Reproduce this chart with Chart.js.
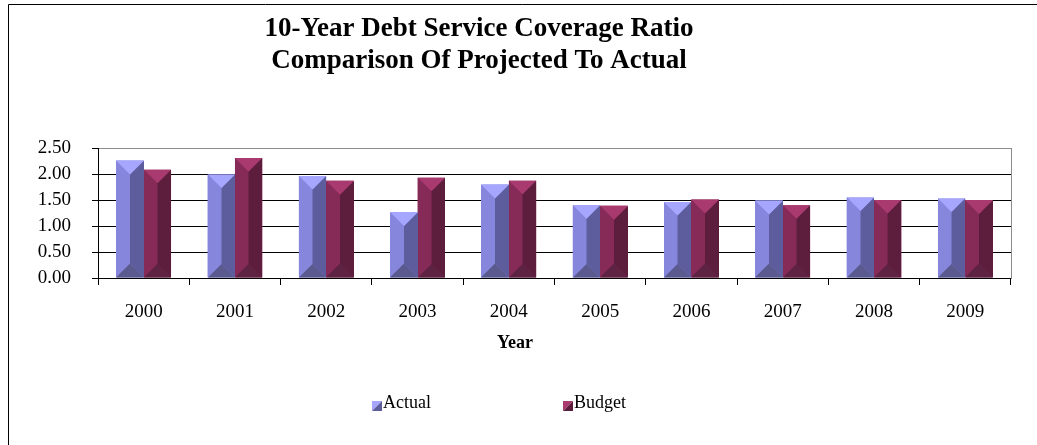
<!DOCTYPE html>
<html>
<head>
<meta charset="utf-8">
<script src="https://cdn.jsdelivr.net/npm/chart.js@4.4.1/dist/chart.umd.min.js"></script>
<style>
  html, body { margin: 0; padding: 0; background: #fff; }
  #wrap { width: 1037px; height: 445px; position: relative; }
</style>
</head>
<body>
<div id="wrap"><canvas id="dscrChart" width="1037" height="445"></canvas></div>
<script>
// data
const years = ['2000', '2001', '2002', '2003', '2004', '2005', '2006', '2007', '2008', '2009'];
const actualRatio = [2.26, 1.99, 1.96, 1.27, 1.80, 1.40, 1.46, 1.49, 1.55, 1.53];
const budgetRatio = [2.08, 2.31, 1.87, 1.93, 1.87, 1.39, 1.51, 1.40, 1.50, 1.50];
const yTicks = [0, 0.5, 1, 1.5, 2, 2.5];
const titleLines = ['10-Year Debt Service Coverage Ratio', 'Comparison Of Projected To Actual'];
const xTitle = 'Year';

const serif = "'Liberation Serif', 'Times New Roman', serif";

// facet colours for the bevelled bars: top, left, right, bottom
const shades = {
    Actual: { top: '#a6a6ff', left: '#8686dd', right: '#5d5d9e', bottom: '#5a5a8e' },
    Budget: { top: '#a83a70', left: '#862a58', right: '#5c1e3c', bottom: '#5e2242' }
};

function bevel(ctx, L, R, T, B, c) {
    const w = R - L;
    const d = Math.min(w / 2, (B - T) / 2);
    const C = (L + R) / 2;
    const poly = (pts, col) => {
        ctx.beginPath();
        ctx.moveTo(pts[0][0], pts[0][1]);
        for (let i = 1; i < pts.length; i++) ctx.lineTo(pts[i][0], pts[i][1]);
        ctx.closePath();
        ctx.fillStyle = col;
        ctx.fill();
    };
    poly([[L, T], [C, T + d], [C, B - d], [L, B]], c.left);
    poly([[R, T], [C, T + d], [C, B - d], [R, B]], c.right);
    poly([[L, T], [R, T], [C, T + d]], c.top);
    poly([[L, B], [R, B], [C, B - d]], c.bottom);
}

// draws the bevel facets on top of each bar plus frame, title, axis name and legend
const excelLook = {
    id: 'excelLook',
    afterDatasetsDraw(chart) {
        const ctx = chart.ctx;
        ctx.save();
        chart.data.datasets.forEach((ds, i) => {
            const meta = chart.getDatasetMeta(i);
            meta.data.forEach(bar => {
                const p = bar.getProps(['x', 'y', 'base', 'width'], true);
                const L = Math.round(p.x - p.width / 2);
                const R = Math.round(p.x + p.width / 2);
                bevel(ctx, L, R, p.y, p.base, shades[ds.label]);
            });
        });
        ctx.restore();
    },
    afterDraw(chart) {
        const ctx = chart.ctx;
        ctx.save();
        // outer chart frame (only top and left edges are visible)
        ctx.strokeStyle = '#000';
        ctx.lineWidth = 1;
        ctx.beginPath();
        ctx.moveTo(8.5, 445);
        ctx.lineTo(8.5, 4.5);
        ctx.lineTo(1037, 4.5);
        ctx.stroke();

        ctx.fillStyle = '#000';
        ctx.textAlign = 'center';
        ctx.textBaseline = 'alphabetic';
        ctx.font = 'bold 27px ' + serif;
        ctx.fillText(titleLines[0], 479, 36);
        ctx.fillText(titleLines[1], 479, 68);

        ctx.font = 'bold 18px ' + serif;
        ctx.fillText(xTitle, 515, 348);

        // legend
        ctx.font = '18px ' + serif;
        ctx.textAlign = 'left';
        const spots = [372, 563];
        chart.data.datasets.forEach((ds, i) => {
            const x = spots[i], y = 401;
            const c = shades[ds.label];
            ctx.fillStyle = c.top;
            ctx.beginPath();
            ctx.moveTo(x, y); ctx.lineTo(x + 10, y); ctx.lineTo(x, y + 10); ctx.closePath();
            ctx.fill();
            ctx.fillStyle = c.right;
            ctx.beginPath();
            ctx.moveTo(x + 10, y); ctx.lineTo(x + 10, y + 10); ctx.lineTo(x, y + 10); ctx.closePath();
            ctx.fill();
            ctx.fillStyle = '#000';
            ctx.fillText(ds.label, x + 11, 408);
        });
        ctx.restore();
    }
};

new Chart(document.getElementById('dscrChart'), {
    type: 'bar',
    data: {
        labels: years,
        datasets: [
            { label: 'Actual', data: actualRatio, backgroundColor: shades.Actual.left },
            { label: 'Budget', data: budgetRatio, backgroundColor: shades.Budget.left }
        ]
    },
    options: {
        responsive: false,
        animation: false,
        devicePixelRatio: 1,
        categoryPercentage: 0.6,
        barPercentage: 1,
        layout: { padding: { top: 148, right: 26, bottom: 87, left: 0 } },
        plugins: {
            legend: { display: false },
            title: { display: false },
            tooltip: { enabled: false }
        },
        scales: {
            x: {
                grid: { offset: true, drawOnChartArea: false, drawTicks: true, tickLength: 7, color: '#000' },
                border: { color: '#000', width: 1 },
                ticks: { color: '#000', font: { family: serif, size: 19 }, padding: 16, maxRotation: 0 },
                afterFit(scale) { scale.height = 80; }
            },
            y: {
                min: 0,
                max: 2.5,
                afterBuildTicks(scale) { scale.ticks = yTicks.map(v => ({ value: v })); },
                grid: {
                    color: ctx => (ctx.tick && ctx.tick.value === 2.5 ? '#8c8c8c' : '#000'),
                    tickColor: '#000',
                    tickLength: 6
                },
                border: { color: '#000', width: 1 },
                ticks: {
                    color: '#000',
                    font: { family: serif, size: 19 },
                    padding: 21,
                    callback: v => Number(v).toFixed(2)
                },
                afterFit(scale) { scale.width = 98; }
            },
            frame: {
                position: 'right',
                min: 0,
                max: 2.5,
                grid: { drawOnChartArea: false, drawTicks: false },
                border: { color: '#8c8c8c', width: 1 },
                ticks: { display: false },
                afterFit(scale) { scale.width = 0; }
            }
        }
    },
    plugins: [excelLook]
});
</script>
</body>
</html>
